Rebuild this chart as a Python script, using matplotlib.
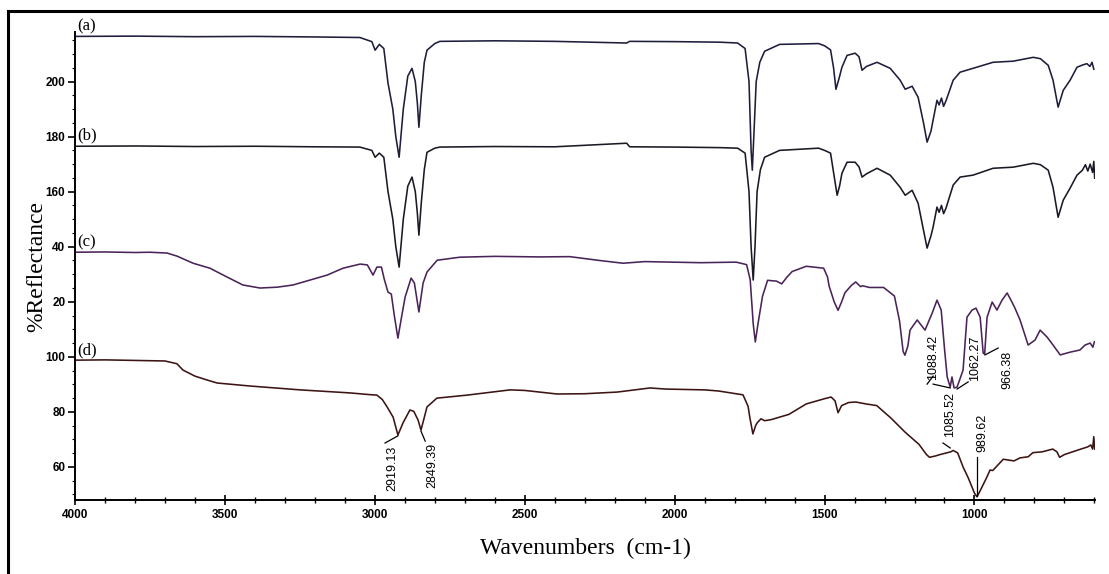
import matplotlib
matplotlib.use("Agg")
import matplotlib.pyplot as plt
from matplotlib.lines import Line2D
from matplotlib.ticker import MultipleLocator
import numpy as np

# FTIR spectra, stacked on one axis (wavenumber, offset %R)
wn_a = [4000, 3800, 3600, 3400, 3200, 3050, 3010, 2999, 2985, 2970, 2956, 2940, 2930, 2919,
        2905, 2890, 2876, 2865, 2858, 2853, 2845, 2835, 2826, 2800, 2783, 2600, 2400, 2160,
        2150, 2000, 1850, 1790, 1765, 1752, 1745, 1741, 1736, 1728, 1716, 1700, 1650, 1520,
        1500, 1480, 1470, 1462, 1452, 1442, 1425, 1398, 1385, 1375, 1360, 1325, 1281, 1248,
        1231, 1208, 1188, 1170, 1158, 1145, 1138, 1125, 1118, 1110, 1103, 1095, 1071, 1048,
        1005, 938, 871, 804, 780, 754, 738, 721, 704, 681, 658, 640, 625, 615, 608, 602]
r_a = [216.4, 216.5, 216.3, 216.4, 216.2, 216.0, 214.5, 211.4, 213.5, 212.0, 199.4, 190.0, 180.0, 172.5,
       190.0, 202.0, 204.8, 200.0, 192.0, 183.4, 195.0, 207.0, 211.4, 213.8, 214.6, 214.8, 214.6, 214.0,
       214.6, 214.5, 214.3, 214.0, 212.0, 200.0, 175.0, 167.8, 180.0, 200.0, 207.0, 211.0, 213.5, 213.8,
       213.0, 211.5, 205.0, 197.2, 201.0, 205.2, 209.5, 210.3, 209.0, 204.1, 205.5, 207.0, 204.8, 200.5,
       197.2, 198.3, 194.3, 185.0, 178.0, 182.0, 186.0, 193.2, 191.5, 194.0, 191.0, 193.0, 200.5, 203.4,
       204.8, 207.0, 207.4, 208.8, 208.3, 205.9, 200.5, 190.7, 196.8, 200.5, 205.2, 206.0, 206.5, 205.5, 207.0, 204.5]

wn_b = [4000, 3800, 3600, 3400, 3200, 3050, 3010, 2999, 2985, 2970, 2956, 2940, 2930, 2919,
        2905, 2890, 2876, 2865, 2858, 2853, 2845, 2835, 2826, 2800, 2783, 2600, 2400, 2160,
        2150, 2000, 1850, 1790, 1765, 1752, 1745, 1738, 1732, 1725, 1714, 1700, 1650, 1520,
        1500, 1480, 1470, 1458, 1450, 1442, 1425, 1398, 1385, 1375, 1360, 1325, 1281, 1248,
        1231, 1208, 1188, 1170, 1158, 1145, 1138, 1125, 1118, 1110, 1103, 1095, 1071, 1048,
        1005, 938, 871, 804, 780, 754, 738, 721, 704, 681, 658, 640, 630, 622, 614, 606, 602, 599]
r_b = [176.5, 176.6, 176.4, 176.5, 176.3, 176.2, 175.0, 172.5, 174.0, 172.5, 160.0, 150.0, 140.0, 132.6,
       150.0, 162.0, 165.3, 160.0, 152.0, 144.2, 156.0, 168.0, 174.3, 175.8, 176.2, 176.4, 176.3, 177.6,
       176.3, 176.2, 176.0, 175.8, 174.0, 160.0, 140.0, 127.9, 140.0, 160.0, 168.0, 172.5, 175.0, 175.8,
       175.0, 174.0, 167.0, 158.7, 162.0, 166.7, 170.7, 170.7, 169.0, 165.3, 166.5, 168.5, 166.0, 161.6,
       158.7, 160.5, 155.8, 146.0, 139.5, 144.0, 147.1, 154.4, 152.5, 155.0, 152.0, 154.0, 162.4, 165.3,
       166.0, 168.5, 168.9, 170.3, 169.8, 167.8, 161.6, 150.7, 156.9, 161.3, 166.0, 167.8, 169.8, 167.5,
       170.0, 167.0, 171.0, 164.9]

wn_c = [4000, 3900, 3800, 3750, 3693, 3660, 3606, 3550, 3493, 3440, 3383, 3326, 3273, 3216,
        3159, 3106, 3049, 3025, 3006, 2993, 2978, 2968, 2956, 2945, 2935, 2923, 2910, 2899,
        2879, 2868, 2853, 2839, 2826, 2792, 2716, 2600, 2450, 2350, 2250, 2172, 2100, 1913,
        1795, 1760, 1748, 1738, 1731, 1722, 1707, 1690, 1660, 1643, 1625, 1608, 1561, 1503,
        1490, 1485, 1468, 1455, 1443, 1432, 1410, 1396, 1380, 1373, 1350, 1303, 1267, 1250,
        1238, 1232, 1222, 1215, 1191, 1165, 1141, 1125, 1111, 1100, 1091, 1081, 1075, 1068,
        1058, 1038, 1025, 1008, 995, 981, 971, 966, 958, 941, 925, 908, 891, 875,
        865, 848, 821, 798, 781, 758, 738, 714, 681, 648, 631, 614, 605, 600]
r_c = [138.0, 138.1, 137.9, 138.0, 137.7, 136.6, 134.0, 132.2, 129.0, 126.1, 125.0, 125.3, 126.1, 127.9,
       129.7, 132.2, 133.7, 133.4, 129.7, 132.6, 132.6, 128.0, 123.5, 122.8, 115.0, 106.8, 115.0, 121.7,
       128.6, 126.8, 116.3, 126.8, 130.8, 135.1, 136.2, 136.5, 136.3, 136.4, 135.0, 134.0, 134.6, 134.2,
       134.4, 133.5, 128.0, 112.0, 105.4, 112.0, 122.0, 127.8, 127.5, 126.5, 129.0, 131.0, 132.9, 132.2,
       129.0, 125.8, 120.0, 116.9, 120.0, 123.3, 126.0, 127.2, 125.5, 125.8, 125.2, 125.2, 122.1, 113.1,
       102.0, 100.6, 104.0, 109.7, 113.4, 109.7, 115.9, 120.6, 117.0, 103.0, 92.7, 89.0, 92.7, 88.7,
       89.0, 95.2, 114.4, 117.0, 117.7, 114.4, 101.4, 101.0, 114.4, 119.9, 117.0, 120.6, 123.2, 119.9,
       117.7, 113.4, 104.3, 106.1, 109.7, 107.2, 104.3, 100.7, 101.7, 102.5, 104.3, 105.0, 103.5, 105.5]

wn_d = [4000, 3900, 3800, 3700, 3660, 3640, 3600, 3560, 3526, 3416, 3249, 3083, 3020, 2993,
        2975, 2959, 2939, 2923, 2906, 2883, 2870, 2856, 2846, 2835, 2826, 2793, 2692, 2549,
        2500, 2392, 2300, 2192, 2082, 2030, 1900, 1854, 1772, 1755, 1749, 1739, 1730, 1725,
        1712, 1700, 1678, 1619, 1561, 1500, 1478, 1465, 1455, 1443, 1420, 1396, 1362, 1326,
        1279, 1232, 1185, 1160, 1150, 1130, 1115, 1079, 1071, 1056, 1038, 1021, 1000, 992,
        985, 960, 948, 939, 904, 868, 848, 821, 805, 774, 739, 725, 716, 700, 681, 645,
        622, 612, 606, 602, 599]
r_d = [98.8, 98.9, 98.7, 98.5, 97.5, 95.2, 93.0, 91.6, 90.5, 89.4, 88.0, 86.9, 86.3, 86.1,
       84.5, 81.8, 78.1, 71.6, 76.0, 80.7, 80.2, 77.1, 73.4, 78.0, 81.8, 85.0, 86.1, 88.0,
       87.8, 86.5, 86.6, 87.2, 88.7, 88.3, 88.0, 87.6, 86.2, 82.0, 77.8, 72.0, 75.0, 76.0,
       77.5, 76.8, 77.2, 79.1, 82.9, 84.8, 85.4, 84.0, 79.7, 82.3, 83.4, 83.6, 82.9, 82.3,
       77.8, 72.7, 68.2, 64.5, 63.5, 64.0, 64.5, 65.5, 66.0, 65.1, 60.0, 56.1, 50.5, 49.2,
       50.5, 56.0, 58.9, 58.7, 62.8, 62.2, 63.3, 63.7, 65.2, 65.5, 66.5, 65.5, 63.5, 64.5, 65.2, 66.5,
       67.3, 68.0, 66.5, 71.0, 66.5]

spectra = [
    ("(a)", wn_a, r_a, "#1e1e3c", 217.0),
    ("(b)", wn_b, r_b, "#1a1a26", 177.4),
    ("(c)", wn_c, r_c, "#4a2458", 138.6),
    ("(d)", wn_d, r_d, "#3c1414", 99.6),
]

ytick_pos = [60, 80, 100, 120, 140, 160, 180, 200]
ytick_lbl = ["60", "80", "100", "20", "40", "160", "180", "200"]

# peak labels: text, text position, leader line segments
peaks = [
    ("2919.13", (2943, 59.6), [[(2923, 71.3), (2966, 68.7)]]),
    ("2849.39", (2809, 60.7), [[(2846, 73.0), (2832, 69.4)]]),
    ("1088.42", (1138, 99.9), [[(1158, 90.1), (1138, 93.0)], [(1138, 90.1), (1081, 88.7)]]),
    ("1085.52", (1081, 78.9), [[(1105, 68.7), (1081, 66.9)]]),
    ("1062.27", (998, 99.6), [[(1058, 88.3), (1021, 90.9)]]),
    ("966.38", (891, 95.2), [[(965, 100.7), (921, 103.2)]]),
    ("989.62", (975, 72.3), [[(991, 63.6), (991, 49.6)]]),
]

tick_font = ["Liberation Sans Narrow", "Liberation Sans", "DejaVu Sans"]
serif = ["Liberation Serif", "DejaVu Serif"]

fig = plt.figure(figsize=(11.09, 5.74), dpi=100)
ax = fig.add_axes([75 / 1109, 74 / 574, 1020 / 1109, 468 / 574])

for name, wn, r, col, ylab in spectra:
    ax.plot(wn, r, color=col, lw=1.15)
    ax.text(3993, ylab, name, family=serif, fontsize=12, ha="left", va="bottom")

for txt, (tx, ty), segs in peaks:
    ax.text(tx, ty, txt, rotation=90, ha="center", va="center",
            family=["Liberation Sans", "DejaVu Sans"], fontsize=9)
    for seg in segs:
        xs, ys = zip(*seg)
        ax.plot(xs, ys, color="black", lw=0.9)

ax.set_xlim(4000, 598)
ax.set_ylim(48, 218)
ax.xaxis.set_major_locator(MultipleLocator(500))
ax.xaxis.set_minor_locator(MultipleLocator(100))
ax.set_yticks(ytick_pos)
ax.set_yticklabels(ytick_lbl)
ax.yaxis.set_minor_locator(MultipleLocator(5))

for side in ["top", "right"]:
    ax.spines[side].set_visible(False)
for side in ["left", "bottom"]:
    ax.spines[side].set_linewidth(1.4)

ax.tick_params(axis="x", which="major", direction="inout", length=7, width=1.2, pad=3)
ax.tick_params(axis="x", which="minor", direction="inout", length=4, width=1.0)
ax.tick_params(axis="y", which="major", direction="out", length=5, width=1.2, pad=2)
ax.tick_params(axis="y", which="minor", direction="out", length=2, width=0.8)
for lbl in ax.get_xticklabels() + ax.get_yticklabels():
    lbl.set_family(tick_font)
    lbl.set_fontsize(8.5)
    lbl.set_fontweight("bold")

ax.set_xlabel("Wavenumbers  (cm-1)", family=serif, fontsize=17, labelpad=12)
ax.set_ylabel("%Reflectance", family=serif, fontsize=17, labelpad=-1)

# outer frame
fig.add_artist(Line2D([8 / 1109, 8 / 1109], [0, 1 - 11 / 574], color="black", lw=2.2,
                      transform=fig.transFigure))
fig.add_artist(Line2D([8 / 1109, 1], [1 - 11 / 574, 1 - 11 / 574], color="black", lw=2.2,
                      transform=fig.transFigure))

fig.savefig("out.png", dpi=100)
